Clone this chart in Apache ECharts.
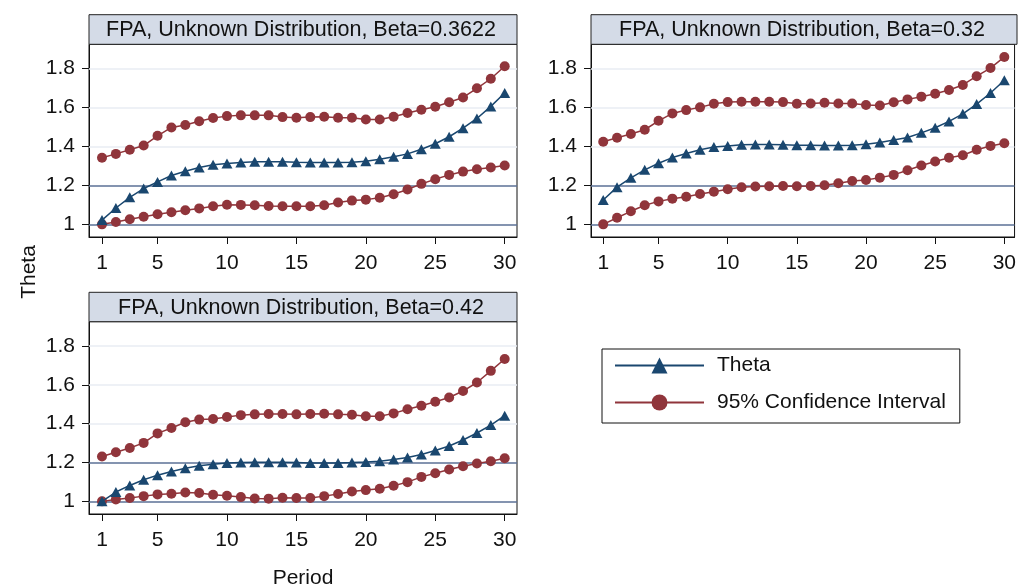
<!DOCTYPE html>
<html><head><meta charset="utf-8">
<script src="https://cdn.jsdelivr.net/npm/echarts@6/dist/echarts.min.js"></script>
<style>html,body{margin:0;padding:0;background:#fff}#c{width:1019px;height:586px}</style>
</head><body><div id="c"></div>
<script>
const periods = Array.from({length: 30}, (_, i) => i + 1);
const xTicks = [1, 5, 10, 15, 20, 25, 30];
const yTicks = [1, 1.2, 1.4, 1.6, 1.8];
const titles = ['FPA, Unknown Distribution, Beta=0.3622', 'FPA, Unknown Distribution, Beta=0.32', 'FPA, Unknown Distribution, Beta=0.42'];

const theta1 = [1.022,1.084,1.139,1.184,1.218,1.251,1.273,1.292,1.306,1.312,1.318,1.321,1.321,1.321,1.319,1.318,1.318,1.318,1.319,1.324,1.335,1.347,1.362,1.386,1.414,1.450,1.494,1.544,1.606,1.675];
const upper1 = [1.342,1.362,1.383,1.405,1.455,1.498,1.510,1.530,1.546,1.556,1.560,1.560,1.560,1.551,1.548,1.551,1.553,1.548,1.548,1.539,1.539,1.553,1.572,1.589,1.604,1.627,1.652,1.699,1.748,1.812];
const lower1 = [1.000,1.012,1.026,1.039,1.052,1.062,1.072,1.082,1.093,1.101,1.100,1.098,1.094,1.093,1.093,1.093,1.098,1.112,1.122,1.127,1.137,1.155,1.179,1.208,1.232,1.254,1.271,1.283,1.292,1.302];

const theta2 = [1.125,1.191,1.239,1.280,1.314,1.343,1.364,1.383,1.397,1.403,1.409,1.410,1.410,1.409,1.407,1.407,1.405,1.405,1.407,1.412,1.421,1.433,1.446,1.470,1.496,1.529,1.568,1.618,1.675,1.740];
const upper2 = [1.424,1.445,1.464,1.486,1.532,1.570,1.587,1.601,1.620,1.628,1.630,1.630,1.630,1.628,1.620,1.621,1.625,1.621,1.621,1.613,1.611,1.627,1.642,1.656,1.671,1.690,1.716,1.761,1.803,1.860];
const lower2 = [1.000,1.034,1.067,1.098,1.118,1.132,1.142,1.156,1.168,1.180,1.191,1.194,1.196,1.197,1.196,1.197,1.201,1.211,1.223,1.228,1.240,1.254,1.278,1.302,1.323,1.342,1.355,1.383,1.403,1.417];

const theta3 = [1.000,1.048,1.082,1.111,1.135,1.154,1.171,1.183,1.191,1.197,1.200,1.202,1.202,1.202,1.200,1.198,1.198,1.198,1.200,1.203,1.207,1.215,1.226,1.241,1.262,1.285,1.316,1.352,1.393,1.441];
const upper3 = [1.231,1.253,1.275,1.301,1.350,1.378,1.407,1.421,1.424,1.434,1.444,1.448,1.450,1.450,1.448,1.450,1.451,1.448,1.446,1.438,1.438,1.453,1.474,1.492,1.513,1.535,1.568,1.612,1.672,1.733];
const lower3 = [1.000,1.010,1.017,1.027,1.036,1.039,1.046,1.043,1.034,1.029,1.022,1.015,1.014,1.019,1.017,1.017,1.027,1.038,1.051,1.058,1.065,1.080,1.099,1.126,1.145,1.164,1.181,1.195,1.207,1.222];

const panels = [
  {theta: theta1, upper: upper1, lower: lower1},
  {theta: theta2, upper: upper2, lower: lower2},
  {theta: theta3, upper: upper3, lower: lower3}
];

const FONT = "'Liberation Sans', Arial, sans-serif";
const NAVY = '#1a476f';
const MAROON = '#90353b';
const GRIDLIGHT = '#e8ecf3';
const REFLINE = '#5b7096';

const layout = [
  {left: 89, top: 44.3, width: 428, height: 192.7, hTop: 14.7, xmin: 0.064, xmax: 30.886},
  {left: 591, top: 44.3, width: 426, height: 192.7, hTop: 14.7, xmin: 0.116, xmax: 30.74},
  {left: 89, top: 321.7, width: 428, height: 192.3, hTop: 292.3, xmin: 0.064, xmax: 30.886}
];

const grids = [], xAxes = [], yAxes = [], series = [], graphics = [];
layout.forEach((L, i) => {
  grids.push({left: L.left, top: L.top, width: L.width, height: L.height, show: true,
    backgroundColor: '#fff', borderColor: '#111', borderWidth: 1});
  xAxes.push({type: 'value', gridIndex: i, min: L.xmin, max: L.xmax,
    axisLine: {show: true, onZero: false, lineStyle: {color: '#111', width: 1}},
    axisTick: {show: true, length: 7, customValues: xTicks, lineStyle: {color: '#111', width: 1}},
    axisLabel: {show: true, customValues: xTicks, margin: 16, fontSize: 21, fontFamily: FONT, color: '#111'},
    splitLine: {show: false}});
  yAxes.push({type: 'value', gridIndex: i, min: 0.935, max: 1.925,
    axisLine: {show: true, onZero: false, lineStyle: {color: '#111', width: 1}},
    axisTick: {show: true, length: 7, customValues: yTicks, lineStyle: {color: '#111', width: 1}},
    axisLabel: {show: true, customValues: yTicks, margin: 14, fontSize: 21, fontFamily: FONT, color: '#111',
      formatter: v => String(Math.round(v * 10) / 10)},
    splitLine: {show: false}});
  series.push({type: 'line', name: 'ref' + i, xAxisIndex: i, yAxisIndex: i, data: [], z: 1,
    markLine: {silent: true, z: 1, symbol: 'none', label: {show: false}, animation: false,
      data: [
        {yAxis: 1.4, lineStyle: {color: GRIDLIGHT, width: 1.5, type: 'solid'}},
        {yAxis: 1.6, lineStyle: {color: GRIDLIGHT, width: 1.5, type: 'solid'}},
        {yAxis: 1.8, lineStyle: {color: GRIDLIGHT, width: 1.5, type: 'solid'}},
        {yAxis: 1.0, lineStyle: {color: REFLINE, width: 1.5, type: 'solid'}},
        {yAxis: 1.2, lineStyle: {color: REFLINE, width: 1.5, type: 'solid'}}
      ]}});
  const P = panels[i];
  const mk = arr => periods.map((p, k) => [p, arr[k]]);
  series.push({type: 'line', name: '95% Confidence Interval', xAxisIndex: i, yAxisIndex: i, data: mk(P.upper),
    symbol: 'circle', symbolSize: 10, showAllSymbol: true, z: 3,
    lineStyle: {color: MAROON, width: 1.5}, itemStyle: {color: MAROON, borderWidth: 0}});
  series.push({type: 'line', name: '95% Confidence Interval', xAxisIndex: i, yAxisIndex: i, data: mk(P.lower),
    symbol: 'circle', symbolSize: 10, showAllSymbol: true, z: 3,
    lineStyle: {color: MAROON, width: 1.5}, itemStyle: {color: MAROON, borderWidth: 0}});
  series.push({type: 'line', name: 'Theta', xAxisIndex: i, yAxisIndex: i, data: mk(P.theta),
    symbol: 'triangle', symbolSize: [11, 10], showAllSymbol: true, z: 4,
    lineStyle: {color: NAVY, width: 1.5}, itemStyle: {color: NAVY, borderWidth: 0}});
  graphics.push({type: 'rect', shape: {x: L.left, y: L.hTop, width: L.width, height: L.top - L.hTop},
    style: {fill: '#d4dbe7', stroke: '#222', lineWidth: 1}, z: 10});
  graphics.push({type: 'text', x: L.left + L.width / 2 - 2, y: (L.hTop + L.top) / 2 + 1,
    style: {text: titles[i], fontSize: 21.5, fontFamily: FONT, fill: '#111', align: 'center', verticalAlign: 'middle'}, z: 11});
});

graphics.push({type: 'text', x: 29, y: 272, rotation: Math.PI / 2,
  style: {text: 'Theta', fontSize: 21, fontFamily: FONT, fill: '#111', align: 'center', verticalAlign: 'middle'}});
graphics.push({type: 'text', x: 303, y: 578,
  style: {text: 'Period', fontSize: 21, fontFamily: FONT, fill: '#111', align: 'center', verticalAlign: 'middle'}});

const chart = echarts.init(document.getElementById('c'), null, {renderer: 'canvas'});
chart.setOption({
  animation: false,
  backgroundColor: '#fff',
  grid: grids, xAxis: xAxes, yAxis: yAxes, series: series, graphic: graphics,
  legend: {data: ['Theta', '95% Confidence Interval'], orient: 'vertical', left: 602, top: 349,
    itemWidth: 89, itemHeight: 20, itemGap: 16, padding: [6, 14, 10, 12],
    borderColor: '#111', borderWidth: 1, selectedMode: false,
    textStyle: {fontSize: 21, fontFamily: FONT, color: '#111', padding: [0, 0, 0, 8]}}
});
</script></body></html>
